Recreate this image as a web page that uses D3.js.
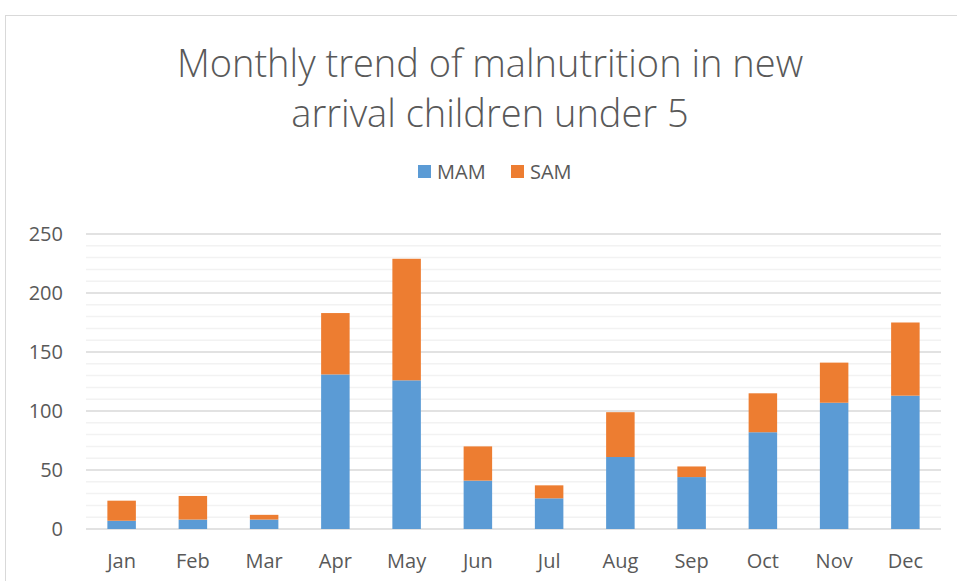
<!DOCTYPE html>
<html>
<head>
<meta charset="utf-8">
<script src="https://cdn.jsdelivr.net/npm/d3@7"></script>
<style>
  body { margin: 0; background: #fff; }
  svg text { font-family: "Open Sans", "Noto Sans", sans-serif; fill: #595959; }
</style>
</head>
<body>
<div id="chart"></div>
<script>
// data
var months = ["Jan", "Feb", "Mar", "Apr", "May", "Jun", "Jul", "Aug", "Sep", "Oct", "Nov", "Dec"];
var mam = [7, 8, 8, 131, 126, 41, 26, 61, 44, 82, 107, 113];
var sam = [17, 20, 4, 52, 103, 29, 11, 38, 9, 33, 34, 62];
var yTicks = [0, 50, 100, 150, 200, 250];
var seriesNames = ["MAM", "SAM"];
var colors = ["#5b9bd5", "#ed7d31"];

var width = 957, height = 581;
var margin = { top: 234, right: 16, bottom: 52, left: 86 };

var svg = d3.select("#chart").append("svg")
    .attr("width", width)
    .attr("height", height);

// outer frame of the chart area
svg.append("rect")
    .attr("x", 5.5).attr("y", 15.5)
    .attr("width", 1000).attr("height", 700)
    .attr("fill", "none")
    .attr("stroke", "#d9d9d9");

var x = d3.scaleBand()
    .domain(months)
    .range([margin.left, width - margin.right])
    .paddingInner(0.6)
    .paddingOuter(0.3);

var y = d3.scaleLinear()
    .domain([0, 250])
    .range([height - margin.bottom, margin.top]);

// minor grid every 10
var g = svg.append("g");
g.selectAll("line.minor")
    .data(d3.range(10, 250, 10).filter(d => d % 50 != 0))
    .enter().append("line")
    .attr("class", "minor")
    .attr("x1", margin.left).attr("x2", width - margin.right)
    .attr("y1", d => y(d)).attr("y2", d => y(d))
    .attr("stroke", "#f2f2f2")
    .attr("stroke-width", 1.5);

g.selectAll("line.major")
    .data(yTicks)
    .enter().append("line")
    .attr("class", "major")
    .attr("x1", margin.left).attr("x2", width - margin.right)
    .attr("y1", d => y(d)).attr("y2", d => y(d))
    .attr("stroke", "#d9d9d9")
    .attr("stroke-width", 1.5);

// stacked bars
var rows = months.map((m, i) => ({ month: m, MAM: mam[i], SAM: sam[i] }));
var stack = d3.stack().keys(seriesNames)(rows);

svg.selectAll("g.series")
    .data(stack)
    .enter().append("g")
    .attr("class", "series")
    .attr("fill", (d, i) => colors[i])
    .selectAll("rect")
    .data(d => d)
    .enter().append("rect")
    .attr("x", d => x(d.data.month))
    .attr("width", x.bandwidth())
    .attr("y", d => y(d[1]))
    .attr("height", d => y(d[0]) - y(d[1]));

// y labels
svg.selectAll("text.ylab")
    .data(yTicks)
    .enter().append("text")
    .attr("class", "ylab")
    .attr("x", 63)
    .attr("y", d => y(d))
    .attr("dy", "0.35em")
    .attr("text-anchor", "end")
    .attr("font-size", 20)
    .text(d => d);

// x labels
svg.selectAll("text.xlab")
    .data(months)
    .enter().append("text")
    .attr("class", "xlab")
    .attr("x", d => x(d) + x.bandwidth() / 2)
    .attr("y", 568)
    .attr("text-anchor", "middle")
    .attr("font-size", 20)
    .text(d => d);

// title
var title = svg.append("text")
    .attr("text-anchor", "middle")
    .attr("font-size", 38)
    .attr("font-weight", 300);
title.append("tspan").attr("x", 490).attr("y", 77).text("Monthly trend of malnutrition in new");
title.append("tspan").attr("x", 490).attr("y", 127).text("arrival children under 5");

// legend
var legendX = [418, 511];
var legend = svg.selectAll("g.legend")
    .data(seriesNames)
    .enter().append("g")
    .attr("class", "legend")
    .attr("transform", (d, i) => "translate(" + legendX[i] + ",165)");
legend.append("rect")
    .attr("width", 13).attr("height", 13)
    .attr("fill", (d, i) => colors[i]);
legend.append("text")
    .attr("x", 19).attr("y", 7)
    .attr("dy", "0.35em")
    .attr("font-size", 20)
    .text(d => d);
</script>
</body>
</html>
